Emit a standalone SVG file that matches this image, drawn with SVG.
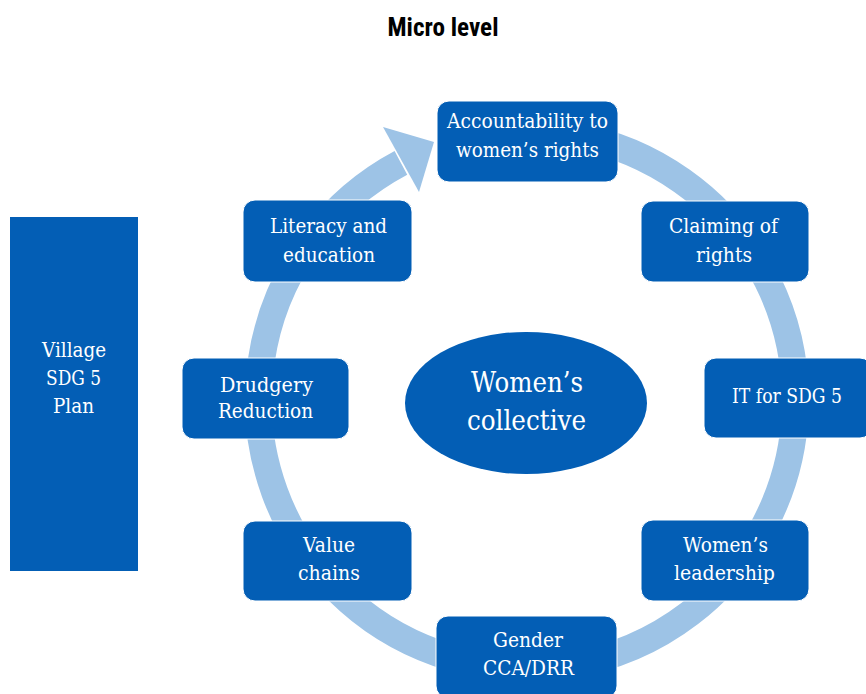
<svg xmlns="http://www.w3.org/2000/svg" width="866" height="694" viewBox="0 0 866 694">
<style>
.box{fill:#035EB5;stroke:#ffffff;stroke-width:1}
.t{font-family:"DejaVu Serif","Liberation Serif",serif;font-size:21px;fill:#ffffff;text-anchor:middle}
.big{font-size:28px}
.title{font-family:"Roboto Condensed","Liberation Sans Narrow",Roboto,"Liberation Sans",sans-serif;font-weight:bold;font-size:25px;fill:#000000;text-anchor:middle}
</style>
<rect width="866" height="694" fill="#ffffff"/>
<text class="title" x="443" y="36" textLength="111" lengthAdjust="spacingAndGlyphs">Micro level</text>
<g id="connectors">
<path d="M573.6,135.6 A268.5,268.5 0 1 1 400.9,162.9" fill="none" stroke="#9DC3E6" stroke-width="27"/>
<polygon points="383,127 434,142 419,192" fill="#9DC3E6"/>
</g>
<g id="village">
<rect x="10" y="217" width="128" height="354" fill="#035EB5"/>
<text class="t" x="74" y="357" textLength="64" lengthAdjust="spacingAndGlyphs">Village</text>
<text class="t" x="73.5" y="385" textLength="55" lengthAdjust="spacingAndGlyphs">SDG 5</text>
<text class="t" x="73.5" y="413" textLength="41" lengthAdjust="spacingAndGlyphs">Plan</text>
</g>
<g id="collective">
<ellipse cx="526" cy="403" rx="121" ry="71" fill="#035EB5"/>
<text class="t big" x="527" y="392" textLength="112" lengthAdjust="spacingAndGlyphs">Women’s</text>
<text class="t big" x="526.5" y="430" textLength="119" lengthAdjust="spacingAndGlyphs">collective</text>
</g>
<g id="accountability">
<rect class="box" x="437" y="101" width="181" height="81" rx="12"/>
<text class="t" x="527.5" y="128" textLength="161" lengthAdjust="spacingAndGlyphs">Accountability to</text>
<text class="t" x="527.5" y="157" textLength="143" lengthAdjust="spacingAndGlyphs">women’s rights</text>
</g>
<g id="claiming">
<rect class="box" x="641" y="201" width="168" height="81" rx="12"/>
<text class="t" x="723.5" y="233" textLength="109" lengthAdjust="spacingAndGlyphs">Claiming of</text>
<text class="t" x="724" y="262" textLength="56" lengthAdjust="spacingAndGlyphs">rights</text>
</g>
<g id="it">
<rect class="box" x="704" y="358" width="168" height="80" rx="12"/>
<text class="t" x="787" y="403" textLength="110" lengthAdjust="spacingAndGlyphs">IT for SDG 5</text>
</g>
<g id="leadership">
<rect class="box" x="641" y="520" width="168" height="81" rx="12"/>
<text class="t" x="725.5" y="552" textLength="85" lengthAdjust="spacingAndGlyphs">Women’s</text>
<text class="t" x="724.5" y="580" textLength="101" lengthAdjust="spacingAndGlyphs">leadership</text>
</g>
<g id="gender">
<rect class="box" x="436" y="616" width="181" height="82" rx="12"/>
<text class="t" x="528" y="647" textLength="70" lengthAdjust="spacingAndGlyphs">Gender</text>
<text class="t" x="528.5" y="675" textLength="91" lengthAdjust="spacingAndGlyphs">CCA/DRR</text>
</g>
<g id="value">
<rect class="box" x="243" y="521" width="169" height="80" rx="12"/>
<text class="t" x="329" y="552" textLength="52" lengthAdjust="spacingAndGlyphs">Value</text>
<text class="t" x="329" y="580" textLength="62" lengthAdjust="spacingAndGlyphs">chains</text>
</g>
<g id="drudgery">
<rect class="box" x="182" y="358" width="167" height="81" rx="12"/>
<text class="t" x="266.5" y="392" textLength="93" lengthAdjust="spacingAndGlyphs">Drudgery</text>
<text class="t" x="265.5" y="418" textLength="95" lengthAdjust="spacingAndGlyphs">Reduction</text>
</g>
<g id="literacy">
<rect class="box" x="243" y="200" width="169" height="82" rx="12"/>
<text class="t" x="328.5" y="233" textLength="117" lengthAdjust="spacingAndGlyphs">Literacy and</text>
<text class="t" x="329" y="262" textLength="92" lengthAdjust="spacingAndGlyphs">education</text>
</g>
</svg>
